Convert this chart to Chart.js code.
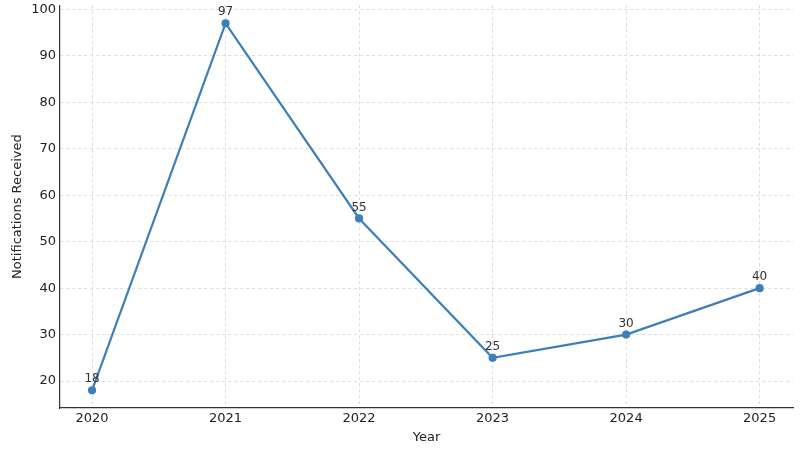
<!DOCTYPE html>
<html>
<head>
<meta charset="utf-8">
<script src="https://cdn.jsdelivr.net/npm/chart.js@4.4.1/dist/chart.umd.min.js"></script>
<style>
  html, body { margin: 0; padding: 0; background: #fff; }
  #wrap { width: 805px; height: 459px; }
</style>
</head>
<body>
<div id="wrap"><canvas id="myChart" width="805" height="459"></canvas></div>
<script>
// values
var years = [2020, 2021, 2022, 2023, 2024, 2025];
var notifications = [18, 97, 55, 25, 30, 40];
var yTicks = [20, 30, 40, 50, 60, 70, 80, 90, 100];

var lineColor = '#3d7fb9';

// little numbers over each point
var pointLabels = {
    id: 'pointLabels',
    afterDatasetsDraw: function(chart) {
        var ctx = chart.ctx;
        var meta = chart.getDatasetMeta(0);
        ctx.save();
        ctx.font = '12px "DejaVu Sans", sans-serif';
        ctx.fillStyle = '#333';
        ctx.textAlign = 'center';
        ctx.textBaseline = 'bottom';
        meta.data.forEach(function(pt, i) {
            ctx.fillText(String(notifications[i]), pt.x, pt.y - 5);
        });
        ctx.restore();
    }
};

const ctx = document.getElementById('myChart').getContext('2d');

const myChart = new Chart(ctx, {
    type: 'line',
    data: {
        datasets: [{
            label: 'Notifications Received',
            data: years.map(function(y, i) { return { x: y, y: notifications[i] }; }),
            borderColor: lineColor,
            backgroundColor: lineColor,
            borderWidth: 2.2,
            pointRadius: 3,
            pointHoverRadius: 3,
            tension: 0
        }]
    },
    options: {
        responsive: false,
        animation: false,
        layout: { padding: { left: 0, right: 12, top: 3, bottom: 0 } },
        plugins: {
            legend: { display: false },
            tooltip: { enabled: false }
        },
        scales: {
            x: {
                type: 'linear',
                min: 2019.76,
                max: 2025.25,
                afterBuildTicks: function(scale) {
                    scale.ticks = years.map(function(v) { return { value: v }; });
                },
                afterFit: function(scale) { scale.height = 51; },
                ticks: {
                    color: '#222',
                    font: { size: 13, family: '"DejaVu Sans", sans-serif' },
                    padding: 3,
                    maxRotation: 0,
                    callback: function(v) { return String(v); }
                },
                grid: { color: '#dcdcdc', drawTicks: false },
                border: { display: true, color: '#333', width: 1.2, dash: [3, 3] },
                title: {
                    display: true,
                    text: 'Year',
                    color: '#222',
                    font: { size: 13, family: '"DejaVu Sans", sans-serif' },
                    padding: { top: 0, bottom: 14 }
                }
            },
            y: {
                min: 14.2,
                max: 100.9,
                afterBuildTicks: function(scale) {
                    scale.ticks = yTicks.map(function(v) { return { value: v }; });
                },
                afterFit: function(scale) {
                    scale.width = 60;
                    scale.paddingTop = 0;
                    scale.paddingBottom = 0;
                },
                ticks: {
                    color: '#222',
                    font: { size: 13, family: '"DejaVu Sans", sans-serif' },
                    padding: 4
                },
                grid: { color: '#dcdcdc', drawTicks: false },
                border: { display: true, color: '#333', width: 1.2, dash: [3, 3] },
                title: {
                    display: true,
                    text: 'Notifications Received',
                    color: '#222',
                    font: { size: 13, family: '"DejaVu Sans", sans-serif' },
                    padding: { top: 10, bottom: 0 }
                }
            }
        }
    },
    plugins: [pointLabels]
});
</script>
</body>
</html>
